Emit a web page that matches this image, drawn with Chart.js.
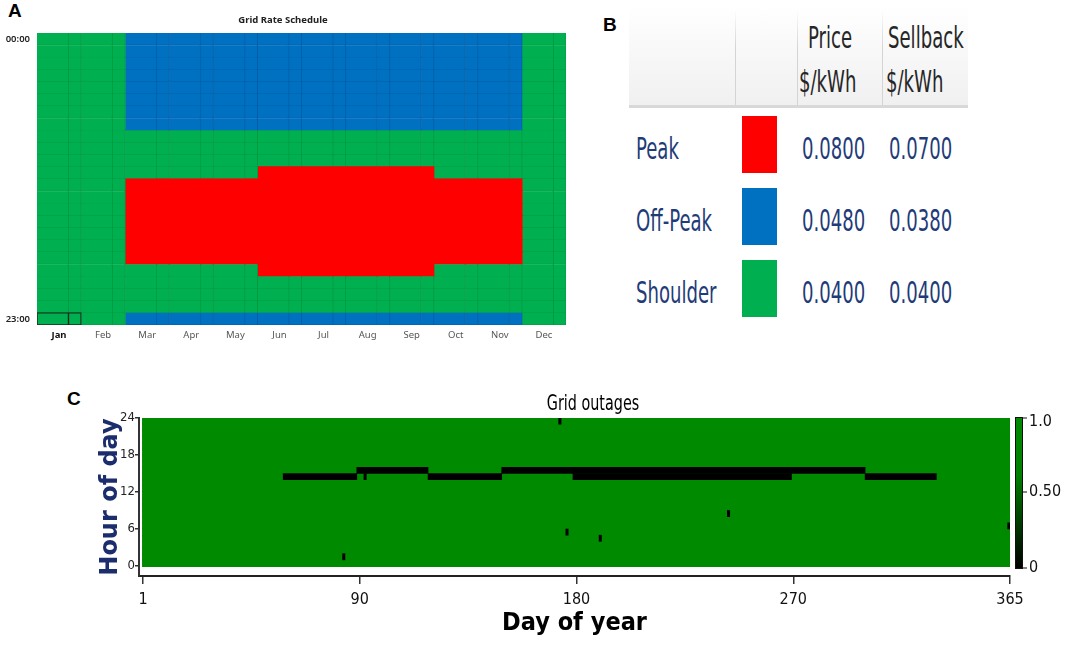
<!DOCTYPE html>
<html>
<head>
<meta charset="utf-8">
<title>Grid rate schedule and grid outages</title>
<script src="https://cdn.jsdelivr.net/npm/chart.js@4.4.1/dist/chart.umd.min.js"></script>
<style>
  body { margin: 0; background: #fff; }
  #page { position: relative; width: 1065px; height: 645px; overflow: hidden; }
  .panel-label { position: absolute; font: bold 19px 'Liberation Sans', Arial, sans-serif; line-height: 20px; color: #000; }
  .chart-box { position: absolute; }
  .head-band { position: absolute; left: 629px; top: 6px; width: 339px; height: 99px;
    background: linear-gradient(#ffffff, #f0f0f0); border-bottom: 3px solid #d8d8d8; }
  .col-line { position: absolute; top: 10px; width: 1px; height: 95px;
    background: linear-gradient(rgba(215,215,215,0), #d4d4d4 40%); }
  .cell-text { position: absolute; white-space: nowrap; line-height: 40px; height: 40px;
    font-family: 'Liberation Sans Narrow', 'DejaVu Sans Condensed', sans-serif; font-size: 30px;
    transform: scaleX(0.67); transform-origin: 0 50%; }
  .head { color: #262626; }
  .name, .num { color: #1f3b78; }
  .swatch { position: absolute; left: 742px; width: 35px; height: 57px; }
  #outage-title { position: absolute; left: 493px; top: 390px; width: 200px; text-align: center;
    white-space: nowrap; font: 21px 'Liberation Sans Narrow', 'DejaVu Sans Condensed', sans-serif;
    line-height: 26px; color: #000; transform: scaleX(0.76); transform-origin: 50% 50%; }
</style>
</head>
<body>
<div id="page">
  <div class="panel-label" style="left:8px;top:1px">A</div>
  <div class="panel-label" style="left:603px;top:15px">B</div>
  <div class="panel-label" style="left:67px;top:389px">C</div>

  <div class="chart-box" style="left:0;top:0;width:580px;height:350px">
    <canvas id="rate-chart"></canvas>
  </div>

  <div id="rate-table">
    <div class="head-band"></div>
    <div class="col-line" style="left:735px"></div>
    <div class="col-line" style="left:797px"></div>
    <div class="col-line" style="left:882px"></div>
  </div>

  <div class="chart-box" style="left:60px;top:380px;width:1005px;height:260px">
    <canvas id="outage-chart"></canvas>
  </div>
  <div id="outage-title">Grid outages</div>
</div>

<script>
// ---- panel A / B : rate schedule ----
const months = ['Jan', 'Feb', 'Mar', 'Apr', 'May', 'Jun', 'Jul', 'Aug', 'Sep', 'Oct', 'Nov', 'Dec'];
const hourLabels = Array.from({ length: 24 }, (_, h) => String(h).padStart(2, '0') + ':00');

const rateCodes = ['P', 'O', 'S'];
const rateNames = ['Peak', 'Off-Peak', 'Shoulder'];
const rateColors = ['#ff0000', '#0070c0', '#00b050'];
const rateGridColors = ['#ff0000', '#005ea8', '#009a42'];
const priceRates = [0.0800, 0.0480, 0.0400];
const sellbackRates = [0.0700, 0.0380, 0.0400];

// one string per hour (00:00 .. 23:00), one letter per month (Jan .. Dec)
const weekdaySchedule = [
  'SSOOOOOOOOOS', 'SSOOOOOOOOOS', 'SSOOOOOOOOOS', 'SSOOOOOOOOOS',
  'SSOOOOOOOOOS', 'SSOOOOOOOOOS', 'SSOOOOOOOOOS', 'SSOOOOOOOOOS',
  'SSSSSSSSSSSS', 'SSSSSSSSSSSS', 'SSSSSSSSSSSS', 'SSSSSPPPPSSS',
  'SSPPPPPPPPPS', 'SSPPPPPPPPPS', 'SSPPPPPPPPPS', 'SSPPPPPPPPPS',
  'SSPPPPPPPPPS', 'SSPPPPPPPPPS', 'SSPPPPPPPPPS', 'SSSSSPPPPSSS',
  'SSSSSSSSSSSS', 'SSSSSSSSSSSS', 'SSSSSSSSSSSS', 'SSOOOOOOOOOS'
];
const weekendSchedule = weekdaySchedule;
const weekdayShare = 5 / 7;
const selectedMonth = 0;
const selectedHour = 23;

// ---- panel C : grid outages ----
const daysInYear = 365;
const outageStart = [60, 91, 121, 152, 182, 182, 274, 305, 94, 85, 176, 179, 193, 247, 365];
const outageEnd   = [90, 120, 151, 181, 273, 273, 304, 334, 94, 85, 176, 179, 193, 247, 365];
const outageHour  = [14, 15, 14, 15, 14, 15, 15, 14, 14, 1, 23, 5, 4, 8, 6];
const hourTicks = [0, 6, 12, 18, 24];
const dayTickLabels = ['1', '90', '180', '270', '365'];
const colorbarTicks = [0, 0.5, 1];
const colorbarLabels = ['0', '0.50', '1.0'];

const narrowFont = "'Liberation Sans Narrow', 'DejaVu Sans Condensed', sans-serif";

const RateChart = {
  chart: null,

  columns() {
    const cols = [];
    months.forEach((m, i) => {
      cols.push({ month: i, from: i, to: i + weekdayShare, schedule: weekdaySchedule });
      cols.push({ month: i, from: i + weekdayShare, to: i + 1, schedule: weekendSchedule });
    });
    return cols;
  },

  init() {
    const rateIndex = code => rateCodes.indexOf(code);
    const isSelected = (col, h) => col.month === selectedMonth && h === selectedHour;

    const datasets = this.columns().map(col => ({
      data: hourLabels.map(() => [col.from, col.to]),
      backgroundColor: col.schedule.map(row => rateColors[rateIndex(row[col.month])]),
      borderColor: col.schedule.map((row, h) =>
        isSelected(col, h) ? '#1b2a1b' : rateGridColors[rateIndex(row[col.month])]),
      borderWidth: ctx => {
        if (isSelected(col, ctx.dataIndex)) return 1.3;
        // peak cells show no grid lines in the original
        if (col.schedule[ctx.dataIndex][col.month] === 'P') return 0;
        return { top: 0, left: 0, right: 1, bottom: 1 };
      },
      borderSkipped: false,
      inflateAmount: 0.6
    }));

    this.chart = new Chart(document.getElementById('rate-chart'), {
      type: 'bar',
      data: { labels: hourLabels, datasets },
      options: {
        indexAxis: 'y',
        responsive: true,
        maintainAspectRatio: false,
        animation: false,
        datasets: { bar: { grouped: false, barPercentage: 1, categoryPercentage: 1 } },
        layout: { padding: { left: 0, right: 14, top: 0, bottom: 0 } },
        scales: {
          x: {
            type: 'linear',
            min: 0,
            max: months.length,
            grid: { display: false, drawTicks: false },
            border: { display: false },
            afterBuildTicks: s => { s.ticks = months.map((m, i) => ({ value: i + 0.5 })); },
            afterFit: s => { s.height = 25; },
            ticks: {
              autoSkip: false,
              maxRotation: 0,
              padding: 5,
              callback: (v, i) => months[i],
              color: ctx => ctx.index === selectedMonth ? '#111' : '#555',
              font: ctx => ({ family: "'Noto Sans', sans-serif", size: 9.5,
                              weight: ctx.index === selectedMonth ? 'bold' : 'normal' })
            }
          },
          y: {
            grid: { display: false, drawTicks: false },
            border: { display: false },
            afterFit: s => { s.width = 37; },
            ticks: {
              autoSkip: false,
              padding: 7,
              callback: (v, i) => (i === 0 || i === hourLabels.length - 1) ? hourLabels[i] : '',
              color: '#222',
              font: { family: "'Noto Sans', sans-serif", size: 9.5, weight: '600' }
            }
          }
        },
        plugins: {
          legend: { display: false },
          tooltip: { enabled: false },
          title: {
            display: true,
            text: 'Grid Rate Schedule',
            color: '#222',
            font: { family: "'Noto Sans', sans-serif", size: 9.5, weight: 'bold' },
            padding: { top: 15, bottom: 6.6 }
          }
        }
      }
    });
  }
};

const RateTable = {
  put(text, left, centerY, cls) {
    const el = document.createElement('div');
    el.className = 'cell-text ' + cls;
    el.textContent = text;
    el.style.left = left + 'px';
    el.style.top = (centerY - 20) + 'px';
    document.getElementById('rate-table').appendChild(el);
  },

  init() {
    this.put('Price', 808, 38, 'head');
    this.put('$/kWh', 799, 82, 'head');
    this.put('Sellback', 888, 38, 'head');
    this.put('$/kWh', 886, 82, 'head');

    rateNames.forEach((name, i) => {
      const cy = 149 + i * 72;
      this.put(name, 636, cy, 'name');
      this.put(priceRates[i].toFixed(4), 802, cy, 'num');
      this.put(sellbackRates[i].toFixed(4), 889, cy, 'num');

      const sw = document.createElement('div');
      sw.className = 'swatch';
      sw.style.top = (cy - 33) + 'px';
      sw.style.background = rateColors[i];
      document.getElementById('rate-table').appendChild(sw);
    });
  }
};

// colour bar beside the outage map, placed with the y scale
const colorbarPlugin = {
  id: 'colorbar',
  afterDraw(chart) {
    const { ctx, chartArea, scales: { y } } = chart;
    const left = chartArea.right + 6;
    const width = 6;
    const top = y.getPixelForValue(y.max);
    const bottom = y.getPixelForValue(0) + 2;

    const grad = ctx.createLinearGradient(0, bottom, 0, top);
    grad.addColorStop(0, '#000000');
    grad.addColorStop(0.45, '#005a00');
    grad.addColorStop(0.62, '#008000');
    grad.addColorStop(1, '#008a00');

    ctx.save();
    ctx.fillStyle = grad;
    ctx.fillRect(left, top, width, bottom - top);
    ctx.strokeStyle = '#111';
    ctx.lineWidth = 1;
    ctx.strokeRect(left - 0.5, top - 0.5, width + 1, bottom - top + 1);

    ctx.font = '16px ' + narrowFont;
    ctx.fillStyle = '#111';
    ctx.textBaseline = 'middle';
    colorbarTicks.forEach((v, i) => {
      const py = v === 0 ? bottom : y.getPixelForValue(v * y.max);
      ctx.beginPath();
      ctx.moveTo(left + width, py);
      ctx.lineTo(left + width + 5, py);
      ctx.stroke();
      ctx.fillText(colorbarLabels[i], left + width + 7, py + (i === colorbarTicks.length - 1 ? 4 : 0));
    });
    ctx.restore();
  }
};

const OutageChart = {
  chart: null,

  init() {
    const outageBars = outageStart.map((d, i) => ({
      x: [d - 0.5, outageEnd[i] + 0.5],
      y: outageHour[i] + 0.5
    }));
    const availableRows = hourLabels.map((label, h) => ({ x: [0.5, daysInYear + 0.5], y: h + 0.5 }));

    this.chart = new Chart(document.getElementById('outage-chart'), {
      type: 'bar',
      data: {
        datasets: [
          { label: 'Outage', data: outageBars, backgroundColor: '#000000', order: 0 },
          { label: 'Grid available', data: availableRows, backgroundColor: '#008a00', order: 1,
            inflateAmount: 1 }
        ]
      },
      options: {
        indexAxis: 'y',
        responsive: true,
        maintainAspectRatio: false,
        animation: false,
        datasets: { bar: { grouped: false, barPercentage: 1, categoryPercentage: 1, borderWidth: 0 } },
        layout: { padding: { left: 0, right: 55, top: 38, bottom: 0 } },
        scales: {
          x: {
            type: 'linear',
            min: -1.2,
            max: daysInYear + 0.5,
            afterBuildTicks: s => {
              const step = daysInYear / (dayTickLabels.length - 1);
              s.ticks = dayTickLabels.map((t, i) => ({ value: 0.5 + i * step }));
            },
            afterFit: s => { s.height = 64; },
            ticks: {
              autoSkip: false,
              maxRotation: 0,
              padding: 6,
              callback: (v, i) => dayTickLabels[i],
              color: '#111',
              font: { family: narrowFont, size: 16 }
            },
            grid: { drawOnChartArea: false, tickLength: 8, color: '#333', lineWidth: 1.5 },
            border: { color: '#222', width: 2 },
            title: {
              display: true,
              text: 'Day of year',
              color: '#000',
              font: { family: "'DejaVu Sans Condensed', 'Liberation Sans Narrow', sans-serif", size: 25, weight: 'bold' },
              padding: { top: 0, bottom: 2 }
            }
          },
          y: {
            type: 'linear',
            min: -1.62,
            max: 24,
            offset: false,
            afterBuildTicks: s => { s.ticks = hourTicks.map(v => ({ value: v })); },
            afterFit: s => { s.width = 79; },
            ticks: {
              autoSkip: false,
              padding: 0,
              color: '#222',
              font: { family: narrowFont, size: 13 }
            },
            grid: { offset: false, drawOnChartArea: false, tickLength: 4, color: '#333', lineWidth: 1.5 },
            border: { color: '#333', width: 2 },
            title: {
              display: true,
              text: 'Hour of day',
              color: '#1c2d6e',
              font: { family: "'DejaVu Sans', sans-serif", size: 24, weight: 'bold' },
              padding: { top: 36, bottom: 0 }
            }
          }
        },
        plugins: {
          legend: { display: false },
          tooltip: { enabled: false }
        }
      },
      plugins: [colorbarPlugin]
    });
  }
};

RateChart.init();
RateTable.init();
OutageChart.init();
</script>
</body>
</html>
